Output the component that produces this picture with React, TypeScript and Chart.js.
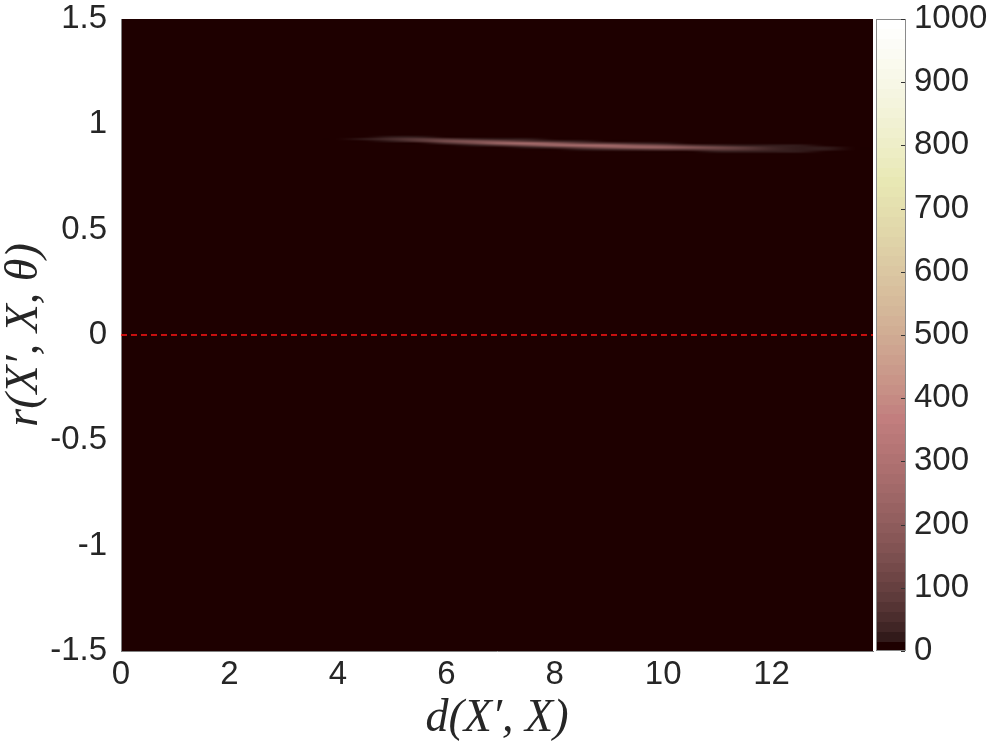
import { useEffect, useRef } from "react";
import { Chart, registerables } from "chart.js";

Chart.register(...registerables);

// ---- axes ----
const xMin = 0;
const xMax = 13.87;
const yMin = -1.5;
const yMax = 1.5;
const xTicks = [0, 2, 4, 6, 8, 10, 12];
const yTicks = [-1.5, -1, -0.5, 0, 0.5, 1, 1.5];
const cMin = 0;
const cMax = 1000;
const cbTicks = [0, 100, 200, 300, 400, 500, 600, 700, 800, 900, 1000];
const colorLevels = 64;

// ---- reference line ----
const refLineY = 0;

// ---- heat-map field (value 0 outside this patch) ----
const backgroundValue = 0;
const gridX = [3.0, 3.5, 4.0, 4.5, 5.0, 5.5, 6.0, 6.5, 7.0, 7.5, 8.0, 8.5, 9.0, 9.5, 10.0, 10.5, 11.0, 11.5, 12.0, 12.5, 13.0, 13.5, 14.0];
const gridY = [0.97, 0.96, 0.95, 0.94, 0.93, 0.92, 0.91, 0.9, 0.89, 0.88, 0.87, 0.86, 0.85];
// one column per gridX entry, values listed from top row (gridY[0]) down
const gridZ = [
  [0, 0, 0, 0, 0, 0, 0, 0, 0, 0, 0, 0, 0],
  [0, 0, 3, 6, 3, 0, 0, 0, 0, 0, 0, 0, 0],
  [0, 0, 3, 11, 11, 3, 0, 0, 0, 0, 0, 0, 0],
  [0, 0, 3, 14, 25, 7, 2, 0, 0, 0, 0, 0, 0],
  [0, 0, 4, 17, 50, 23, 5, 0, 0, 0, 0, 0, 0],
  [0, 0, 4, 20, 80, 65, 14, 3, 0, 0, 0, 0, 0],
  [0, 0, 3, 13, 67, 145, 50, 10, 3, 0, 0, 0, 0],
  [0, 0, 0, 8, 40, 170, 135, 28, 6, 0, 0, 0, 0],
  [0, 0, 0, 5, 25, 130, 240, 65, 15, 4, 0, 0, 0],
  [0, 0, 0, 4, 16, 72, 270, 150, 28, 6, 0, 0, 0],
  [0, 0, 0, 0, 9, 40, 190, 240, 60, 12, 4, 0, 0],
  [0, 0, 0, 0, 5, 21, 104, 280, 110, 21, 5, 0, 0],
  [0, 0, 0, 0, 0, 12, 68, 255, 175, 35, 8, 0, 0],
  [0, 0, 0, 0, 0, 8, 35, 175, 220, 50, 10, 0, 0],
  [0, 0, 0, 0, 0, 5, 25, 125, 220, 63, 14, 4, 0],
  [0, 0, 0, 0, 0, 4, 15, 76, 180, 76, 15, 4, 0],
  [0, 0, 0, 0, 0, 0, 10, 42, 135, 80, 17, 4, 0],
  [0, 0, 0, 0, 0, 0, 5, 22, 80, 66, 16, 5, 0],
  [0, 0, 0, 0, 0, 0, 8, 18, 40, 40, 18, 8, 0],
  [0, 0, 0, 0, 0, 0, 6, 16, 24, 26, 17, 7, 0],
  [0, 0, 0, 0, 0, 0, 4, 10, 17, 18, 12, 5, 0],
  [0, 0, 0, 0, 0, 0, 3, 6, 10, 12, 9, 4, 0],
  [0, 0, 0, 0, 0, 0, 2, 4, 6, 8, 6, 3, 0],
];

const xTitle = "d(X\u2032, X)";
const yTitle = "r(X\u2032, X, \u03b8)";

// MATLAB "pink" colormap
function pinkColor(i: number, m: number): [number, number, number] {
  const k = i + 1;
  const n = Math.floor((3 / 8) * m);
  const hr = k <= n ? k / n : 1;
  const hg = k <= n ? 0 : k <= 2 * n ? (k - n) / n : 1;
  const hb = k <= 2 * n ? 0 : (k - 2 * n) / (m - 2 * n);
  const g = (k - 1) / (m - 1);
  return [
    Math.round(Math.sqrt((2 * g + hr) / 3) * 255),
    Math.round(Math.sqrt((2 * g + hg) / 3) * 255),
    Math.round(Math.sqrt((2 * g + hb) / 3) * 255),
  ];
}
function levelOf(v: number): number {
  const t = (v - cMin) / (cMax - cMin);
  return Math.max(0, Math.min(colorLevels - 1, Math.floor(t * colorLevels)));
}
function colorOf(v: number): [number, number, number] {
  return pinkColor(levelOf(v), colorLevels);
}
const rgb = (c: [number, number, number]) => `rgb(${c[0]},${c[1]},${c[2]})`;

const heatmapPlugin = {
  id: "heatmap",
  beforeDraw(chart: any) {
    const { ctx, chartArea, scales } = chart;
    const xs = scales.x;
    const ys = scales.y;
    const cb = scales.y2;
    ctx.save();
    ctx.beginPath();
    ctx.rect(chartArea.left, chartArea.top, chartArea.right - chartArea.left, chartArea.bottom - chartArea.top);
    ctx.clip();
    ctx.fillStyle = rgb(colorOf(backgroundValue));
    ctx.fillRect(chartArea.left, chartArea.top, chartArea.right - chartArea.left, chartArea.bottom - chartArea.top);

    const cols = gridX.length;
    const rows = gridY.length;
    const off = document.createElement("canvas");
    off.width = cols;
    off.height = rows;
    const octx = off.getContext("2d")!;
    const img = octx.createImageData(cols, rows);
    for (let c = 0; c < cols; c++) {
      for (let r = 0; r < rows; r++) {
        const col = colorOf(gridZ[c][r]);
        const p = (r * cols + c) * 4;
        img.data[p] = col[0];
        img.data[p + 1] = col[1];
        img.data[p + 2] = col[2];
        img.data[p + 3] = 255;
      }
    }
    octx.putImageData(img, 0, 0);
    const dx = gridX[1] - gridX[0];
    const dy = gridY[0] - gridY[1];
    const px0 = xs.getPixelForValue(gridX[0] - dx / 2);
    const px1 = xs.getPixelForValue(gridX[cols - 1] + dx / 2);
    const py0 = ys.getPixelForValue(gridY[0] + dy / 2);
    const py1 = ys.getPixelForValue(gridY[rows - 1] - dy / 2);
    ctx.imageSmoothingEnabled = true;
    (ctx as any).imageSmoothingQuality = "high";
    ctx.drawImage(off, px0, py0, px1 - px0, py1 - py0);
    ctx.restore();

    // colorbar
    const cbL = chartArea.right + 3;
    const cbR = chartArea.right + 33;
    ctx.save();
    for (let i = 0; i < colorLevels; i++) {
      const v0 = cMin + (i * (cMax - cMin)) / colorLevels;
      const v1 = cMin + ((i + 1) * (cMax - cMin)) / colorLevels;
      const y0 = cb.getPixelForValue(v0);
      const y1 = cb.getPixelForValue(v1);
      ctx.fillStyle = rgb(pinkColor(i, colorLevels));
      ctx.fillRect(cbL, Math.floor(y1), cbR - cbL, Math.ceil(y0) - Math.floor(y1));
    }
    ctx.strokeStyle = "#8a8a8a";
    ctx.lineWidth = 1;
    ctx.strokeRect(cbL + 0.5, cb.top + 0.5, cbR - cbL - 1, cb.bottom - cb.top - 1);
    ctx.strokeStyle = "#333333";
    for (const t of cbTicks) {
      const y = Math.round(cb.getPixelForValue(t)) + 0.5;
      ctx.beginPath();
      ctx.moveTo(cbR - 5, y);
      ctx.lineTo(cbR - 1, y);
      ctx.stroke();
    }
    ctx.restore();
  },
};

const tickFont = { family: "'Liberation Sans', Arial, Helvetica, sans-serif", size: 33 };
const titleFont = { family: "'Liberation Serif', 'Times New Roman', serif", size: 46, style: "italic" as const, lineHeight: 1 };
const textColor = "#262626";

export default function App() {
  const ref = useRef<HTMLCanvasElement | null>(null);
  useEffect(() => {
    if (!ref.current) return;
    const chart = new Chart(ref.current, {
      type: "line",
      data: {
        datasets: [
          {
            data: [
              { x: xMin, y: refLineY },
              { x: xMax, y: refLineY },
            ],
            borderColor: "#ff1414",
            borderWidth: 1.6,
            borderDash: [6, 4],
            pointRadius: 0,
            fill: false,
          },
        ],
      },
      plugins: [heatmapPlugin],
      options: {
        responsive: false,
        animation: false,
        devicePixelRatio: 1,
        layout: { padding: { top: 19, left: 0, right: 0, bottom: 0 } },
        plugins: { legend: { display: false }, tooltip: { enabled: false } },
        scales: {
          x: {
            type: "linear",
            position: "bottom",
            min: xMin,
            max: xMax,
            afterBuildTicks: (s: any) => {
              s.ticks = xTicks.map((v) => ({ value: v }));
            },
            afterFit: (s: any) => {
              s.height = 90;
              s.paddingLeft = 0;
              s.paddingRight = 0;
            },
            grid: { display: false, drawTicks: false, tickLength: 0 },
            border: { display: true, color: "#808080", width: 1 },
            ticks: { font: tickFont, color: textColor, padding: 4, maxRotation: 0, autoSkip: false, callback: (v: any) => String(v) },
            title: { display: true, text: xTitle, font: titleFont, color: textColor, padding: { top: 0, bottom: -1 } },
          },
          y: {
            type: "linear",
            position: "left",
            min: yMin,
            max: yMax,
            afterBuildTicks: (s: any) => {
              s.ticks = yTicks.map((v) => ({ value: v }));
            },
            afterFit: (s: any) => {
              s.width = 121;
              s.paddingTop = 0;
              s.paddingBottom = 0;
            },
            grid: { display: false, drawTicks: false, tickLength: 0 },
            border: { display: true, color: "#808080", width: 1 },
            ticks: { font: tickFont, color: textColor, padding: 14, autoSkip: false, callback: (v: any) => String(v) },
            title: { display: true, text: yTitle, font: titleFont, color: textColor, padding: { top: 2, bottom: 0 } },
          },
          y2: {
            type: "linear",
            position: "right",
            min: cMin,
            max: cMax,
            afterBuildTicks: (s: any) => {
              s.ticks = cbTicks.map((v) => ({ value: v }));
            },
            afterFit: (s: any) => {
              s.width = 118;
              s.paddingTop = 0;
              s.paddingBottom = 0;
            },
            grid: { display: false, drawTicks: false, tickLength: 0 },
            border: { display: false },
            ticks: { font: tickFont, color: textColor, padding: 41, autoSkip: false, callback: (v: any) => String(v) },
          },
        },
      },
    } as any);
    return () => chart.destroy();
  }, []);
  return (
    <div style={{ position: "absolute", left: 0, top: 0, width: 991, height: 741 }}>
      <canvas ref={ref} width={991} height={741} style={{ display: "block" }} />
    </div>
  );
}
